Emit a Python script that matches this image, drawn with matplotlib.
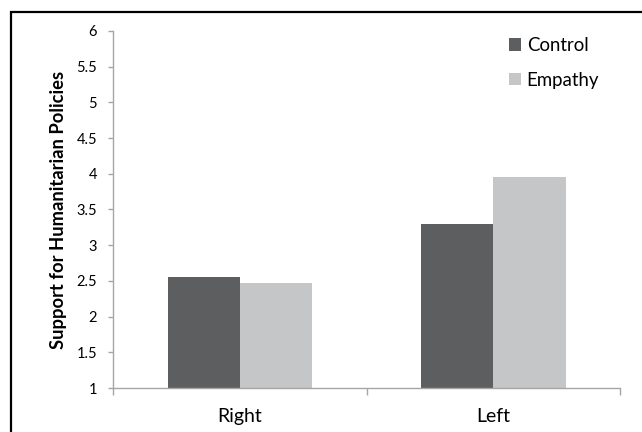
import matplotlib
matplotlib.use("Agg")
import matplotlib.pyplot as plt
from matplotlib.patches import Rectangle, Patch
import numpy as np

categories = ["Right", "Left"]
series_names = ["Control", "Empathy"]
control = [2.56, 3.30]
empathy = [2.47, 3.95]
yticks = [1, 1.5, 2, 2.5, 3, 3.5, 4, 4.5, 5, 5.5, 6]
ytick_labels = ["1", "1.5", "2", "2.5", "3", "3.5", "4", "4.5", "5", "5.5", "6"]
ylabel = "Support for Humanitarian Policies"

plt.rcParams['font.family'] = ['Lato', 'DejaVu Sans']

W, H = 642, 432
fig = plt.figure(figsize=(W / 100, H / 100), dpi=100)
ax = fig.add_axes([113 / W, 1 - 388 / H, (620.3 - 113) / W, (388 - 31) / H])

x = np.arange(len(categories))
bw = 0.285
c_ctrl = "#5d5e60"
c_emp = "#c5c6c8"
ax.bar(x - bw / 2, control, bw, bottom=0, color=c_ctrl, label=series_names[0], zorder=2)
ax.bar(x + bw / 2, empathy, bw, bottom=0, color=c_emp, label=series_names[1], zorder=2)

ax.set_xlim(-0.5, len(categories) - 0.5)
ax.set_ylim(1, 6)

axis_color = "#a6a6a6"
for s in ["top", "right"]:
    ax.spines[s].set_visible(False)
for s in ["left", "bottom"]:
    ax.spines[s].set_color(axis_color)
    ax.spines[s].set_linewidth(1.0)

ax.set_yticks(yticks)
ax.set_yticklabels(ytick_labels)
ax.tick_params(axis='y', direction='out', length=3.5, width=1.0, color=axis_color,
               labelsize=10.5, pad=8, labelcolor="black")

ax.set_xticks(x)
ax.set_xticklabels(categories)
ax.set_xticks(np.arange(-0.5, len(categories), 1.0), minor=True)
ax.tick_params(axis='x', which='major', length=0, labelsize=14, pad=14.5, labelcolor="black")
ax.tick_params(axis='x', which='minor', direction='out', length=5, width=1.0, color=axis_color)

ax.set_ylabel(ylabel, fontsize=13.2, fontweight='bold', labelpad=7)

handles = [Patch(facecolor=c_ctrl, edgecolor='none'), Patch(facecolor=c_emp, edgecolor='none')]
leg = ax.legend(handles, series_names, loc='upper left',
                bbox_to_anchor=((509 - 113) / (620.3 - 113), 1 - (37 - 31) / (388 - 31)),
                frameon=False, fontsize=13.4, handlelength=0.65, handleheight=0.65,
                handletextpad=0.3, labelspacing=0.95, borderpad=0, borderaxespad=0)

# outer frame (extends beyond the right and bottom edges)
fig.patches.append(Rectangle((11 / W, -0.2), 2.0, 1.2 - 12 / H, transform=fig.transFigure,
                             fill=False, edgecolor="black", linewidth=1.6, clip_on=False))

fig.savefig("out.png", dpi=100)
